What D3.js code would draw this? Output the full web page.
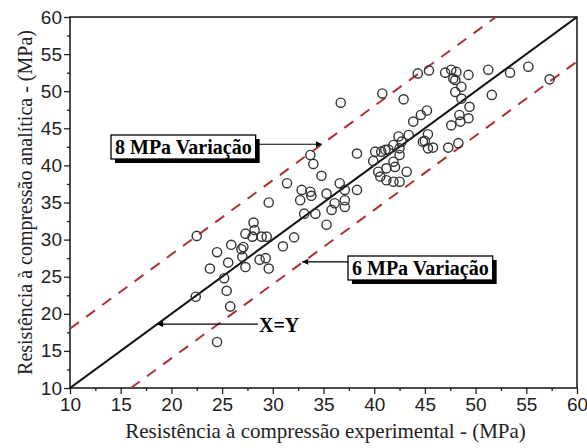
<!DOCTYPE html>
<html><head><meta charset="utf-8">
<script src="https://cdn.jsdelivr.net/npm/d3@7"></script>
<style>body{margin:0;background:#fff}svg{display:block}</style>
</head><body>
<svg id="c" width="587" height="448"></svg>
<script>
// Data (experimental x, analytical y), MPa
const expX = [22.5,22.4,23.8,24.5,24.5,25.2,25.45,25.8,25.6,25.9,26.9,27.0,27.3,27.1,27.3,28.1,28.2,28.0,28.9,29.4,28.7,29.3,29.6,31.0,32.1,29.6,
  31.4,32.85,32.7,33.8,33.7,33.7,34.0,34.8,35.3,33.1,34.2,35.3,35.8,36.1,36.6,37.1,37.1,37.1,38.3,38.3,36.7,
  40.1,40.7,39.9,41.4,41.9,42.4,43.4,42.7,42.5,41.9,42.05,41.2,40.4,40.6,43.2,41.2,41.9,42.5,44.8,45.3,43.85,42.5,41.1,
  40.8,42.9,44.6,45.2,45.3,45.0,45.8,47.3,48.3,47.6,48.5,48.4,49.3,49.4,48.6,48.0,48.6,48.0,51.6,
  44.3,45.4,47.0,47.6,47.8,48.1,49.3,51.25,53.4,55.2,57.3];
const anaY = [30.5,22.3,26.1,28.3,16.2,24.8,23.1,21.0,26.9,29.3,28.7,27.7,26.3,29.0,30.8,32.3,31.3,30.4,30.4,30.4,27.3,27.5,26.1,29.1,30.3,35.0,
  37.6,36.7,35.3,35.9,36.45,41.4,40.2,38.6,36.2,33.5,33.5,32.0,34.0,34.9,37.6,36.7,35.3,34.4,36.7,41.6,48.45,
  41.85,41.85,40.6,42.15,42.75,43.9,44.1,43.2,41.4,40.5,39.8,39.6,39.15,38.5,39.15,38.0,37.8,37.8,43.2,42.3,45.9,42.3,42.1,
  49.7,48.9,46.8,47.4,44.2,43.3,42.4,42.4,43.0,45.4,45.9,46.8,46.35,47.9,49.0,49.9,50.6,51.5,49.5,
  52.4,52.8,52.5,52.9,51.7,52.6,52.2,52.9,52.5,53.3,51.6];
const tickValues = [10,15,20,25,30,35,40,45,50,55,60];
const minorTicks = [12.5,17.5,22.5,27.5,32.5,37.5,42.5,47.5,52.5,57.5];
const bandOffsets = [8, -6];   // upper +8 MPa, lower -6 MPa
const xTitle = "Resistência à compressão experimental - (MPa)";
const yTitle = "Resistência à compressão analítica - (MPa)";
const labels8 = "8 MPa Variação", labels6 = "6 MPa Variação", labelXY = "X=Y";

const svg = d3.select("#c");
const m = {l:70, r:10, t:17, b:60};
const W = 587, H = 448;
const x = d3.scaleLinear().domain([10,60]).range([m.l, W-m.r]);
const y = d3.scaleLinear().domain([10,60]).range([H-m.b, m.t]);

const defs = svg.append("defs");
defs.append("marker").attr("id","ah").attr("viewBox","0 0 10 10").attr("refX",10).attr("refY",5)
  .attr("markerWidth",8).attr("markerHeight",6).attr("markerUnits","userSpaceOnUse").attr("orient","auto")
  .append("path").attr("d","M0,0L10,5L0,10Z").attr("fill","#000");
defs.append("clipPath").attr("id","clip").append("rect")
  .attr("x",m.l).attr("y",m.t).attr("width",W-m.l-m.r).attr("height",H-m.t-m.b);

// axes
const tickFont = "'Liberation Sans', Arial, sans-serif";
svg.append("g").attr("transform",`translate(0,${H-m.b})`)
  .call(d3.axisBottom(x).tickValues(tickValues).tickSize(6).tickPadding(4).tickFormat(d3.format("d")));
svg.append("g").attr("transform",`translate(0,${H-m.b})`)
  .call(d3.axisBottom(x).tickValues(minorTicks).tickSize(3).tickFormat(""));
svg.append("g").attr("transform",`translate(${m.l},0)`)
  .call(d3.axisLeft(y).tickValues(tickValues).tickSize(6).tickPadding(2).tickFormat(d3.format("d")));
svg.append("g").attr("transform",`translate(${m.l},0)`)
  .call(d3.axisLeft(y).tickValues(minorTicks).tickSize(3).tickFormat(""));
svg.selectAll(".domain").remove();
svg.selectAll(".tick line").attr("stroke","#222").attr("stroke-width",1.3);
svg.selectAll(".tick text").attr("font-family",tickFont).attr("font-size",19).attr("fill","#222");

// frame
svg.append("rect").attr("x",m.l).attr("y",m.t).attr("width",W-m.l-m.r).attr("height",H-m.t-m.b)
  .attr("fill","none").attr("stroke","#111").attr("stroke-width",1.5);

const plot = svg.append("g").attr("clip-path","url(#clip)");
// band lines
bandOffsets.forEach(o=>{
  const x0 = Math.max(10, 10 - o), x1 = Math.min(60, 60 - o);
  plot.append("line").attr("x1",x(x0)).attr("y1",y(x0+o)).attr("x2",x(x1)).attr("y2",y(x1+o))
    .attr("stroke","#b0303a").attr("stroke-width",2).attr("stroke-dasharray","11,9");
});
// X=Y
plot.append("line").attr("x1",x(10)).attr("y1",y(10)).attr("x2",x(60)).attr("y2",y(60))
  .attr("stroke","#111").attr("stroke-width",2);

// points
plot.selectAll("circle").data(expX.map((v,i)=>[v,anaY[i]])).join("circle")
  .attr("cx",d=>x(d[0])).attr("cy",d=>y(d[1])).attr("r",4.6)
  .attr("fill","none").attr("stroke","#333").attr("stroke-width",1.4);

// annotations
const serif = "'Liberation Serif','Times New Roman',serif";
function boxLabel(text, bx, by, tipX, tipY, lineY, side){
  const g = svg.append("g");
  const t = g.append("text").attr("x",bx+4).attr("y",by+19).attr("font-family",serif)
    .attr("font-weight","bold").attr("font-size",20).attr("fill","#000").text(text);
  const tw = t.node().getComputedTextLength();
  const bw = tw + 8, bh = 24;
  g.insert("rect","text").attr("x",bx+4).attr("y",by+4).attr("width",bw).attr("height",bh).attr("fill","#000");
  g.insert("rect","text").attr("x",bx).attr("y",by).attr("width",bw).attr("height",bh)
    .attr("fill","#fff").attr("stroke","#000").attr("stroke-width",1.3);
  const sx = side === "right" ? bx + bw : bx;
  svg.append("line").attr("x1",sx).attr("y1",lineY).attr("x2",tipX).attr("y2",tipY)
    .attr("stroke","#000").attr("stroke-width",1.2).attr("marker-end","url(#ah)");
}
// 8 MPa label: arrow tip on upper band at x=34.85
const t8 = 34.85;
boxLabel(labels8, 111, 135, x(t8), y(t8+bandOffsets[0]), y(t8+bandOffsets[0]), "right");
// 6 MPa label: arrow tip on lower band at x=33
const t6 = 33;
boxLabel(labels6, 348, 256, x(t6)-1, y(t6+bandOffsets[1]), y(t6+bandOffsets[1]), "left");
// X=Y label
const txy = 18.6;
svg.append("text").attr("x",259).attr("y",y(txy)+8).attr("font-family",serif).attr("font-weight","bold")
  .attr("font-size",20).text(labelXY);
svg.append("line").attr("x1",258).attr("y1",y(txy)).attr("x2",x(txy)).attr("y2",y(txy))
  .attr("stroke","#000").attr("stroke-width",1.2).attr("marker-end","url(#ah)");

// axis titles
svg.append("text").attr("x",(m.l+W-m.r)/2 + 2).attr("y",H-10).attr("text-anchor","middle")
  .attr("font-family",serif).attr("font-size",21).attr("fill","#222").text(xTitle);
svg.append("text").attr("transform",`translate(32,${(m.t+H-m.b)/2}) rotate(-90)`).attr("text-anchor","middle")
  .attr("font-family",serif).attr("font-size",20).attr("fill","#222").text(yTitle);
</script>
</body></html>
